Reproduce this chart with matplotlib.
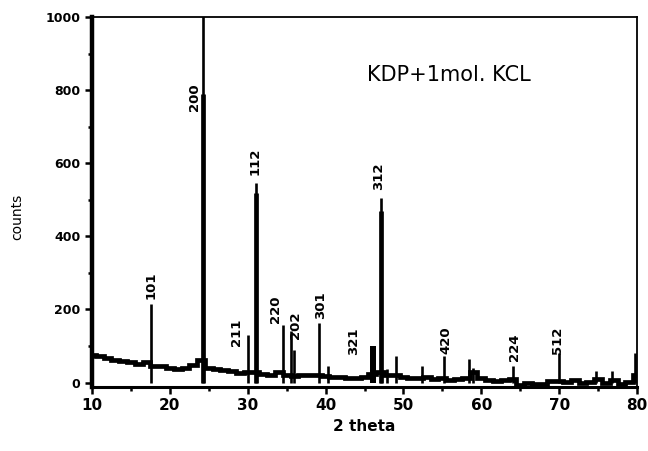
import numpy as np
import matplotlib
matplotlib.use('Agg')
import matplotlib.pyplot as plt
from matplotlib.ticker import MultipleLocator

# background trace, read at 1 degree steps (counts)
base_2theta = np.arange(10, 81)
base_counts = [75, 72, 66, 62, 58, 55, 52, 55, 45, 44,
               40, 38, 40, 48, 62, 40, 36, 35, 32, 26,
               30, 30, 24, 22, 30, 20, 18, 22, 22, 20,
               18, 14, 15, 13, 13, 14, 24, 30, 22, 20,
               14, 12, 12, 14, 10, 12, 8, 10, 12, 28,
               12, 6, 4, 8, 10, -8, 0, -5, -5, 4,
               4, 2, 8, 0, 2, 10, -2, 8, -5, 2, 20]

# sharp reflections
peak_pos = [17.6, 24.3, 30.0, 31.1, 34.5, 35.5, 36.0, 39.1, 40.3, 47.1,
            47.9, 49.1, 52.4, 55.2, 58.4, 59.0, 64.1, 70.0, 74.7, 76.8, 79.8]
peak_counts = [215, 1100, 130, 545, 158, 140, 90, 164, 44, 505,
               38, 74, 44, 74, 65, 40, 46, 82, 33, 33, 82]

# strong peaks: thick lower body
body_pos = [24.2, 31.1, 47.1]
body_counts = [790, 520, 470]

# broad reflection near 46
broad_pos = [46.1]
broad_counts = [100]

# hkl labels
hkl = ['101', '200', '211', '112', '220', '202', '301', '321', '312', '420', '224', '512']
hkl_x = [17.6, 23.1, 28.6, 31.0, 33.6, 36.2, 39.4, 43.6, 46.8, 55.4, 64.3, 69.8]
hkl_y = [265, 780, 137, 605, 200, 158, 213, 112, 565, 117, 98, 117]

fig = plt.figure(figsize=(6.48, 4.51), dpi=100)
ax = fig.add_axes([0.142, 0.142, 0.841, 0.82])

ax.plot(base_2theta, base_counts, color='black', lw=3.4, drawstyle='steps-mid',
        solid_joinstyle='miter')
ax.vlines(peak_pos, 0, peak_counts, color='black', lw=1.9)
ax.vlines(body_pos, 0, body_counts, color='black', lw=3.4)
ax.bar(broad_pos, broad_counts, width=0.8, color='black')

for lab, x, y in zip(hkl, hkl_x, hkl_y):
    ax.text(x, y, lab, rotation=90, ha='center', va='center',
            fontsize=9.5, fontweight='bold')

ax.text(55.8, 842, 'KDP+1mol. KCL', ha='center', va='center', fontsize=15)

ax.set_xlim(10, 80)
ax.set_ylim(-12, 1000)
ax.xaxis.set_major_locator(MultipleLocator(10))
ax.xaxis.set_minor_locator(MultipleLocator(5))
ax.yaxis.set_major_locator(MultipleLocator(200))
ax.yaxis.set_minor_locator(MultipleLocator(100))
ax.tick_params(which='both', direction='out', width=1.8)
ax.tick_params(which='major', length=5)
ax.tick_params(which='minor', length=3)
ax.tick_params(axis='x', labelsize=11, pad=3)
ax.tick_params(axis='y', labelsize=9)
for t in ax.get_xticklabels() + ax.get_yticklabels():
    t.set_fontweight('bold')

ax.spines['left'].set_linewidth(3.2)
ax.spines['bottom'].set_linewidth(2.2)
ax.spines['top'].set_linewidth(1.3)
ax.spines['right'].set_linewidth(1.3)

ax.set_xlabel('2 theta', fontsize=11, fontweight='bold', labelpad=4)
ax.set_ylabel('counts', fontsize=10)
ax.yaxis.set_label_coords(-0.125, 0.46)

fig.savefig('out.png', dpi=100)
